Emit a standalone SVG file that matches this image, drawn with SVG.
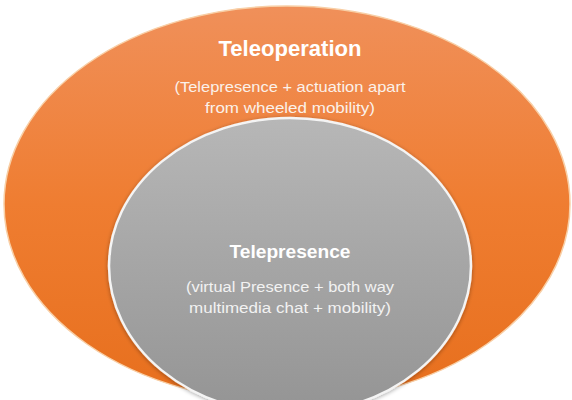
<svg xmlns="http://www.w3.org/2000/svg" width="572" height="400" viewBox="0 0 572 400">
  <defs>
    <linearGradient id="gOrange" x1="0" y1="0" x2="0" y2="1">
      <stop offset="0" stop-color="#f0905a"/>
      <stop offset="0.5" stop-color="#ef7d31"/>
      <stop offset="1" stop-color="#e76f1d"/>
    </linearGradient>
    <linearGradient id="gGrey" x1="0" y1="0" x2="0" y2="1">
      <stop offset="0" stop-color="#b7b7b7"/>
      <stop offset="1" stop-color="#949494"/>
    </linearGradient>
    <filter id="shadow" x="-10%" y="-10%" width="120%" height="120%">
      <feGaussianBlur in="SourceAlpha" stdDeviation="2"/>
      <feOffset dx="0" dy="1" result="b"/>
      <feComponentTransfer><feFuncA type="linear" slope="0.35"/></feComponentTransfer>
      <feMerge><feMergeNode/><feMergeNode in="SourceGraphic"/></feMerge>
    </filter>
  </defs>
  <style>
    text { font-family: "Liberation Sans", Arial, sans-serif; text-anchor: middle; fill: #ffffff; }
    .title { font-weight: bold; font-size: 22px; }
    .title2 { font-weight: bold; font-size: 19px; }
    .sub { font-size: 15px; fill: #fbf1ea; }
    .sub2 { font-size: 14px; fill: #f2f2f2; }
  </style>
  <rect width="572" height="400" fill="#ffffff"/>
  <g id="teleoperation">
    <ellipse cx="287" cy="204" rx="283" ry="198" fill="url(#gOrange)" stroke="#f8cfa6" stroke-width="1.5"/>
    <text class="title" x="290" y="56" textLength="143" lengthAdjust="spacingAndGlyphs">Teleoperation</text>
    <text class="sub" x="290" y="92" textLength="231" lengthAdjust="spacingAndGlyphs">(Telepresence + actuation apart</text>
    <text class="sub" x="290" y="113" textLength="170" lengthAdjust="spacingAndGlyphs">from wheeled mobility)</text>
  </g>
  <g id="telepresence">
    <ellipse cx="290" cy="266" rx="181" ry="148" fill="url(#gGrey)" stroke="#f4f4f4" stroke-width="2.5" filter="url(#shadow)"/>
    <text class="title2" x="290" y="258" textLength="121" lengthAdjust="spacingAndGlyphs">Telepresence</text>
    <text class="sub2" x="290" y="292" textLength="208" lengthAdjust="spacingAndGlyphs">(virtual Presence + both way</text>
    <text class="sub2" x="290" y="313" textLength="202" lengthAdjust="spacingAndGlyphs">multimedia chat + mobility)</text>
  </g>
</svg>
